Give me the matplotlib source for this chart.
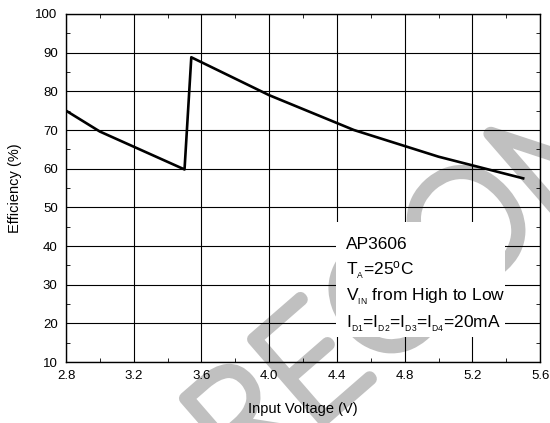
import matplotlib
matplotlib.use("Agg")
import matplotlib.pyplot as plt
import matplotlib.patheffects as pe
from matplotlib.patches import Rectangle
from matplotlib.ticker import MultipleLocator

plt.rcParams['font.family'] = ['Liberation Sans', 'DejaVu Sans']
plt.rcParams['mathtext.fontset'] = 'custom'
plt.rcParams['mathtext.rm'] = 'Liberation Sans'
plt.rcParams['mathtext.it'] = 'Liberation Sans'

# data
vin = [2.8, 3.0, 3.5, 3.54, 4.0, 4.5, 5.0, 5.5]
eff = [75.0, 69.6, 59.8, 88.8, 79.0, 70.0, 63.1, 57.5]

xticks = [2.8, 3.2, 3.6, 4.0, 4.4, 4.8, 5.2, 5.6]
yticks = [10, 20, 30, 40, 50, 60, 70, 80, 90, 100]

notes = [
    'AP3606',
    r'T$_{_{\mathrm{A}}}$=25$^{\mathrm{o}}$C',
    r'V$_{_{\mathrm{IN}}}$ from High to Low',
    r'I$_{_{\mathrm{D1}}}$=I$_{_{\mathrm{D2}}}$=I$_{_{\mathrm{D3}}}$=I$_{_{\mathrm{D4}}}$=20mA',
]

fig = plt.figure(figsize=(5.5, 4.23), dpi=100)
ax = fig.add_axes([0.12, 0.144, 0.862, 0.823])

ax.plot(vin, eff, color='black', linewidth=1.9, zorder=4)

ax.set_xlim(2.8, 5.6)
ax.set_ylim(10, 100)
ax.set_xticks(xticks)
ax.set_xticklabels(['%.1f' % t for t in xticks])
ax.set_yticks(yticks)
ax.xaxis.set_minor_locator(MultipleLocator(0.2))
ax.yaxis.set_minor_locator(MultipleLocator(5))
ax.tick_params(which='both', direction='in', top=True, right=True, labelsize=9.5)
ax.tick_params(which='major', length=0)
ax.tick_params(which='minor', length=3, width=0.6)
ax.tick_params(axis='x', which='major', pad=6)
ax.tick_params(axis='y', which='major', pad=6)
ax.grid(True, which='major', color='black', linewidth=0.8)
for s in ax.spines.values():
    s.set_linewidth(1.0)

ax.set_xlabel('Input Voltage (V)', fontsize=10.5, labelpad=14)
ax.set_ylabel('Efficiency (%)', fontsize=10.5, labelpad=10)

# watermark
ax.text(0.44, -0.16, 'RECOMMENDED', transform=fig.transFigure, rotation=41,
        rotation_mode='anchor', ha='left', va='baseline', fontsize=110,
        family='Lato', fontweight='light', color='#c0c0c0',
        path_effects=[pe.withStroke(linewidth=9, foreground='#c0c0c0')],
        clip_on=False, zorder=1)

# condition box
ax.add_patch(Rectangle((0.57, 0.072), 0.356, 0.33, transform=ax.transAxes,
                       facecolor='white', edgecolor='none', zorder=3))
for i, t in enumerate(notes):
    ax.text(0.59, 0.326 - i * 0.075, t, transform=ax.transAxes, fontsize=12.5,
            ha='left', va='baseline', zorder=5)

fig.savefig('out.png', dpi=100)
